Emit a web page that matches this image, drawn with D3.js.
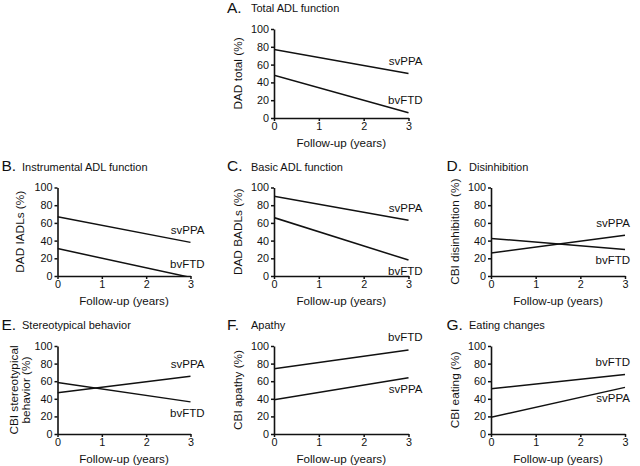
<!DOCTYPE html>
<html>
<head>
<meta charset="utf-8">
<script src="https://cdn.jsdelivr.net/npm/d3@7"></script>
<style>
  html, body { margin: 0; padding: 0; background: #fff; }
  svg { display: block; font-family: "Liberation Sans", Arial, Helvetica, sans-serif; }
</style>
</head>
<body>
<svg id="chart" width="640" height="466"></svg>
<script>
// ---- data ----
const followUp = [0, 3];                       // years (line endpoints)
const xTicks = [0, 1, 2, 3];
const yTicks = [0, 20, 40, 60, 80, 100];
const panelLetters = ["A.", "B.", "C.", "D.", "E.", "F.", "G."];
const panelTitles = ["Total ADL function", "Instrumental ADL function", "Basic ADL function",
  "Disinhibition", "Stereotypical behavior", "Apathy", "Eating changes"];
const yLabels = [["DAD total (%)"], ["DAD IADLs (%)"], ["DAD BADLs (%)"], ["CBI disinhibition (%)"],
  ["CBI stereotypical", "behavior (%)"], ["CBI apathy (%)"], ["CBI eating (%)"]];
const svPPA = [[77, 50], [67, 38], [90, 63], [26, 46], [47, 65.5], [39, 64], [19, 53]];
const bvFTD = [[48, 6], [31, -1.6], [66, 18], [42.5, 30], [58.5, 36.5], [74, 95.5], [51.5, 67.5]];
const xLabel = "Follow-up (years)";
// label placement relative to line end: -1 above, +1 below
const svPPASide = [-1, -1, -1, -1, -1, 1, 1];
const bvFTDSide = [-1, -1, 1, 1, 1, -1, -1];

// ---- layout ----
const cols = [{x0: 57.5, x1: 190.5, letter: 1.5, title: 22, ylab: 20},
              {x0: 274, x1: 408.5, letter: 227, title: 251, ylab: 238},
              {x0: 491, x1: 625, letter: 446.5, title: 469, ylab: 455}];
const rows = [{top: 29, bottom: 118}, {top: 187.5, bottom: 276}, {top: 346, bottom: 434}];
const cells = [[0,1],[1,0],[1,1],[1,2],[2,0],[2,1],[2,2]]; // [row, col]

const svg = d3.select("#chart");
const defs = svg.append("defs");

panelTitles.forEach((title, i) => {
  const [r, c] = cells[i];
  const col = cols[c], row = rows[r];
  const x = d3.scaleLinear().domain([0, 3]).range([col.x0, col.x1]);
  const y = d3.scaleLinear().domain([0, 100]).range([row.bottom, row.top]);
  const g = svg.append("g");

  // title
  g.append("text").attr("x", col.letter).attr("y", row.top - 16.5)
    .attr("font-size", 15.5).attr("fill", "#111").text(panelLetters[i]);
  g.append("text").attr("x", col.title).attr("y", row.top - 17)
    .attr("font-size", 11).attr("fill", "#111").text(title);

  // axes
  const yAxis = d3.axisLeft(y).tickValues(yTicks).tickSize(3).tickSizeOuter(0).tickPadding(2);
  const xAxis = d3.axisBottom(x).tickValues(xTicks).tickSize(3).tickSizeOuter(0).tickPadding(1.5)
    .tickFormat(d3.format("d"));
  const ya = g.append("g").attr("transform", `translate(${col.x0},0)`).call(yAxis);
  const xa = g.append("g").attr("transform", `translate(0,${row.bottom})`).call(xAxis);
  [ya, xa].forEach(a => {
    a.select(".domain").attr("stroke", "#111").attr("stroke-width", 1.6);
    a.selectAll(".tick line").attr("stroke", "#111").attr("stroke-width", 1.5);
    a.selectAll(".tick text").attr("font-size", 10.8).attr("fill", "#111")
      .attr("font-family", "Liberation Sans, Arial, sans-serif");
  });

  // y label
  const lines = yLabels[i];
  const midY = (row.top + row.bottom) / 2;
  lines.forEach((t, k) => {
    const lx = lines.length === 1 ? col.ylab : col.ylab - 6 + k * 12;
    g.append("text")
      .attr("transform", `translate(${lx + 4},${midY}) rotate(-90)`)
      .attr("text-anchor", "middle").attr("font-size", 11.8).attr("fill", "#111").text(t);
  });

  // x label
  g.append("text").attr("x", (col.x0 + col.x1) / 2).attr("y", row.bottom + 29)
    .attr("text-anchor", "middle").attr("font-size", 11.6).attr("fill", "#111").text(xLabel);

  // clip
  const cid = "clip" + i;
  defs.append("clipPath").attr("id", cid).append("rect")
    .attr("x", col.x0).attr("y", row.top - 5).attr("width", col.x1 - col.x0 + 2)
    .attr("height", row.bottom - row.top + 5);

  const line = d3.line().x((d, k) => x(followUp[k])).y(d => y(d));
  const series = [{name: "svPPA", vals: svPPA[i], side: svPPASide[i]},
                  {name: "bvFTD", vals: bvFTD[i], side: bvFTDSide[i]}];
  series.forEach(s => {
    g.append("path").attr("d", line(s.vals)).attr("clip-path", `url(#${cid})`)
      .attr("fill", "none").attr("stroke", "#111").attr("stroke-width", 1.5);
    const endY = y(Math.max(0, s.vals[1]));
    const ly = s.side < 0 ? endY - 8.5 : endY + 15;
    g.append("text").attr("x", Math.min(col.x1 + 14, 630)).attr("y", ly)
      .attr("text-anchor", "end").attr("font-size", 11.5).attr("fill", "#111").text(s.name);
  });
});
</script>
</body>
</html>
